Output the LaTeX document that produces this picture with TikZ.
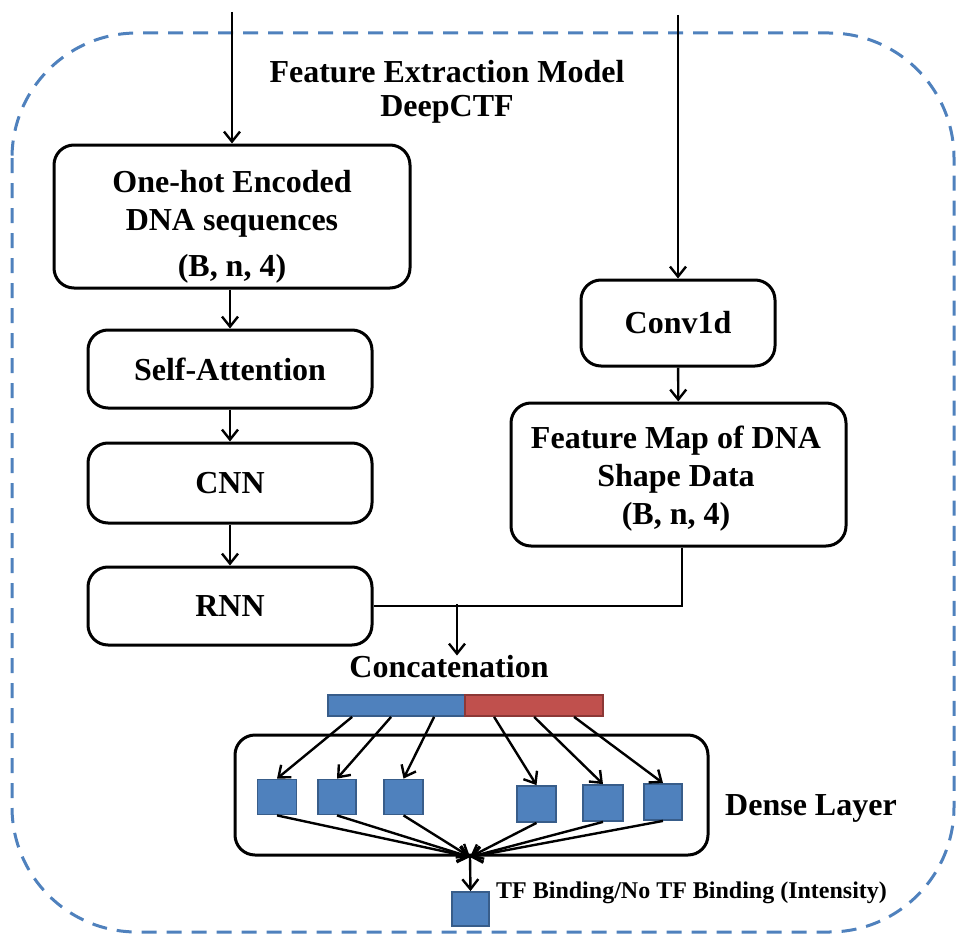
\documentclass[tikz,border=0pt]{standalone}
\usepackage{fontspec}
\setmainfont{Liberation Serif}
\usetikzlibrary{arrows.meta,calc}
\definecolor{dashblue}{HTML}{4F81BD}
\definecolor{sqfill}{HTML}{4F81BD}
\definecolor{sqdraw}{HTML}{385D8A}
\definecolor{redfill}{HTML}{C0504D}
\definecolor{reddraw}{HTML}{8C3836}
\tikzset{
  boxnode/.style={draw=black,line width=3pt,rounded corners=20pt,align=center,inner sep=0pt,
    font=\bfseries\fontsize{32}{38}\selectfont},
  arr/.style={line width=2.4pt,-{Straight Barb[length=10pt,width=16pt,line width=2.4pt]}},
  plain/.style={line width=2.4pt},
  sq/.style={draw=sqdraw,fill=sqfill,line width=1.8pt,inner sep=0pt},
  lbl/.style={font=\bfseries\fontsize{32}{34}\selectfont,align=center,inner sep=0pt},
  boxtext/.style={font=\bfseries\fontsize{32}{38}\selectfont,align=center,inner sep=0pt}
}
\begin{document}
\begin{tikzpicture}[x=1pt,y=-1pt]
\useasboundingbox (0,0) rectangle (956,934);
% dashed outer frame
\draw[dashblue,line width=3pt,dash pattern=on 15pt off 10pt,rounded corners=125pt] (12,33) rectangle (954,932);
% title
\node[lbl] (title) at (447,92) {Feature Extraction Model\\DeepCTF};
% left column
\node[boxnode,minimum width=356pt,minimum height=143pt] (b1) at (232,216.5) {};
\node[boxtext] (b1t) at (232,227) {One-hot Encoded\\DNA sequences\\[8pt](B, n, 4)};
\node[boxnode,minimum width=284pt,minimum height=78pt] (sa) at (230,369) {Self-Attention};
\node[boxnode,minimum width=284pt,minimum height=80pt] (cnn) at (230,483) {CNN};
\node[boxnode,minimum width=284pt,minimum height=78pt] (rnn) at (230,606) {RNN};
% right column
\node[boxnode,minimum width=194pt,minimum height=86pt] (conv) at (678,323) {Conv1d};
\node[boxnode,minimum width=335pt,minimum height=143pt] (fm) at (678.5,474.5) {};
\node[boxtext] (fmt) at (676,479) {Feature Map of DNA\\Shape Data\\(B, n, 4)};
% inputs
\coordinate (in1) at (232,12);
\coordinate (in2) at (678,15);
\draw[arr] (in1) -- (b1.north);
\draw[arr] (in2) -- (conv.north);
\draw[arr] (b1.south -| sa.north) -- (sa.north);
\draw[arr] (sa) -- (cnn);
\draw[arr] (cnn) -- (rnn);
\draw[arr] (conv) -- (fm);
% merge
\coordinate (fmb) at ([xshift=3.5pt]fm.south);
\draw[plain] (fmb) |- (rnn.east);
\coordinate (j) at (457,604);
\node[lbl] (concat) at (449,667) {Concatenation};
\draw[arr] (j) -- (j |- concat.north);
% concat bar
\node[draw=sqdraw,fill=sqfill,line width=1.8pt,minimum width=137pt,minimum height=21pt,inner sep=0pt] (blue) at (396.5,705.5) {};
\node[draw=reddraw,fill=redfill,line width=1.8pt,minimum width=138pt,minimum height=21pt,inner sep=0pt] (red) at (534,705.5) {};
% dense layer
\node[draw=black,line width=3pt,rounded corners=20pt,minimum width=473pt,minimum height=120pt] (dense) at (471.5,795) {};
\node[lbl,anchor=west] (denselbl) at (725,808) {Dense Layer};
% squares
\node[sq,minimum width=39pt,minimum height=35pt] (s1) at (277,797) {};
\node[sq,minimum width=38pt,minimum height=35pt] (s2) at (337,797) {};
\node[sq,minimum width=39pt,minimum height=35pt] (s3) at (403.5,797) {};
\node[sq,minimum width=39pt,minimum height=36pt] (s4) at (536.5,804) {};
\node[sq,minimum width=40pt,minimum height=36pt] (s5) at (603,803) {};
\node[sq,minimum width=38pt,minimum height=36pt] (s6) at (663,802) {};
% bar to squares
\draw[arr] ([xshift=25pt]blue.south west) -- (s1.north);
\draw[arr] ([xshift=64pt]blue.south west) -- (s2.north);
\draw[arr] ([xshift=107pt]blue.south west) -- (s3.north);
\draw[arr] ([xshift=30pt]red.south west) -- (s4.north);
\draw[arr] ([xshift=70pt]red.south west) -- (s5.north);
\draw[arr] ([xshift=110pt]red.south west) -- (s6.north);
% squares to output
\coordinate (c) at (470,857);
\foreach \s in {s1,s2,s3,s4,s5,s6} {\draw[arr] (\s.south) -- (c);}
\node[sq,minimum width=37pt,minimum height=34pt] (out) at (470.5,909) {};
\draw[arr] (c) -- (out.north);
\node[anchor=west,inner sep=0pt,font=\bfseries\fontsize{24}{26}\selectfont] (outlbl) at (496,893) {TF Binding/No TF Binding (Intensity)};
\end{tikzpicture}
\end{document}
